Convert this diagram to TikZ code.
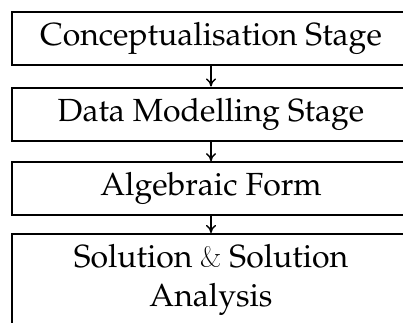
\documentclass[tikz,border=0pt]{standalone}
\usepackage[T1]{fontenc}
\usepackage{mathpazo}
\usetikzlibrary{arrows.meta}
\newcommand{\cmamp}{{\fontfamily{lmr}\selectfont\&}}
\tikzset{
  stagebox/.style={draw, line width=2pt, minimum width=398pt, inner sep=0pt,
    align=center, font=\fontsize{32}{39}\selectfont},
  flow/.style={line width=1.4pt, -{To[length=8pt,width=10pt]}}
}
\begin{document}
\begin{tikzpicture}[x=1pt,y=-1pt]
\useasboundingbox (0,0) rectangle (403,322);
\node[stagebox, minimum height=53pt] (c) at (211,38) {Conceptualisation Stage};
\node[stagebox, minimum height=53pt] (d) at (211,114) {Data Modelling Stage};
\node[stagebox, minimum height=53pt] (a) at (211,188.7) {Algebraic Form};
\node[stagebox, minimum height=92pt] (s) at (211,280) {Solution \cmamp{} Solution\\Analysis};
\draw[flow] (c.south) -- (d.north);
\draw[flow] (d.south) -- (a.north);
\draw[flow] (a.south) -- (s.north);
\end{tikzpicture}
\end{document}
